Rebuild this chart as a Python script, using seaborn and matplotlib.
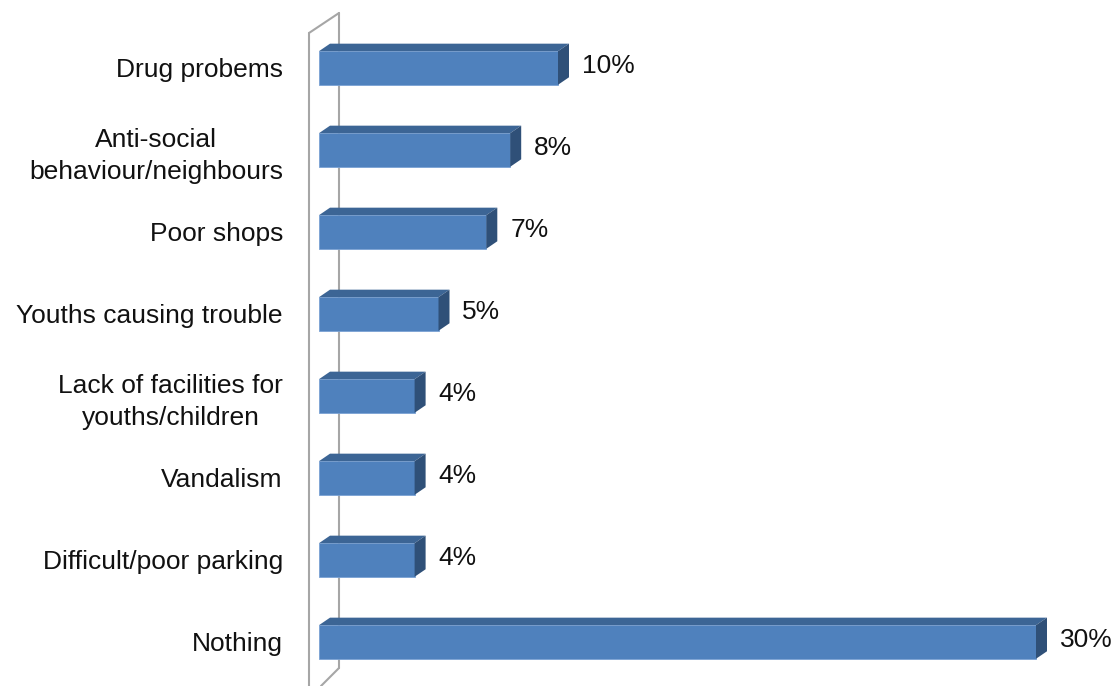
import matplotlib
matplotlib.use("Agg")
import matplotlib.pyplot as plt
from matplotlib.patches import Polygon
from matplotlib.lines import Line2D
import seaborn as sns
import pandas as pd

categories = [
    "Drug probems",
    "Anti-social\nbehaviour/neighbours",
    "Poor shops",
    "Youths causing trouble",
    "Lack of facilities for\nyouths/children",
    "Vandalism",
    "Difficult/poor parking",
    "Nothing",
]
values = [10, 8, 7, 5, 4, 4, 4, 30]
value_labels = ["10%", "8%", "7%", "5%", "4%", "4%", "4%", "30%"]

front_color = "#4F81BD"
top_color = "#3C6595"
side_color = "#2F5078"
wall_color = "#A6A6A6"

sns.set_theme(style="white")
plt.rcParams["font.family"] = ["Liberation Sans", "DejaVu Sans"]

W, H = 1120, 686
fig = plt.figure(figsize=(W / 100, H / 100), dpi=100)
px_per_unit = 23.9
x_left_px = 319
x_max = 33
ax = fig.add_axes([x_left_px / W, 0, x_max * px_per_unit / W, 1])

df = pd.DataFrame({"category": categories, "value": values})
sns.barplot(data=df, x="value", y="category", orient="h", color=front_color,
            saturation=1, width=0.41, ax=ax, edgecolor="#7AA2D4", linewidth=0.6)

ax.set_xlim(0, x_max)
ax.set_ylim(7.537, -0.829)

# depth of the 3D extrusion, in data units
dx = 11 / px_per_unit
dy = 7.5 / 82

for patch in ax.patches[:len(values)]:
    x0, y0 = patch.get_x(), patch.get_y()
    w, h = patch.get_width(), patch.get_height()
    x1 = x0 + w
    ytop, ybot = y0, y0 + h
    top = Polygon([(x0, ytop), (x1, ytop), (x1 + dx, ytop - dy), (x0 + dx, ytop - dy)],
                  closed=True, facecolor=top_color, edgecolor="none", zorder=3)
    side = Polygon([(x1, ytop), (x1, ybot), (x1 + dx, ybot - dy), (x1 + dx, ytop - dy)],
                   closed=True, facecolor=side_color, edgecolor="none", zorder=3)
    ax.add_patch(top)
    ax.add_patch(side)

for i, (v, lab) in enumerate(zip(values, value_labels)):
    ax.text(v + 1.0, i - 0.03, lab, ha="left", va="center", fontsize=19,
            color="#111111", clip_on=False)

# back wall of the 3D plot area
def px(x, y):
    return (x / W, 1 - y / H)

wall = [
    [(309, 686), (309, 33)],
    [(309, 33), (339, 13)],
    [(339, 13), (339, 668)],
    [(339, 668), (321, 686)],
]
for seg in wall:
    (xa, ya), (xb, yb) = px(*seg[0]), px(*seg[1])
    fig.add_artist(Line2D([xa, xb], [ya, yb], transform=fig.transFigure,
                          color=wall_color, linewidth=1.5, zorder=0))

ax.set_xlabel("")
ax.set_ylabel("")
ax.set_xticks([])
ax.tick_params(axis="y", length=0, pad=26, labelsize=19, labelcolor="#111111")
for t in ax.get_yticklabels():
    t.set_multialignment("center")
    t.set_linespacing(1.4)
for s in ax.spines.values():
    s.set_visible(False)
ax.patch.set_alpha(0)

fig.savefig("out.png", dpi=100)
